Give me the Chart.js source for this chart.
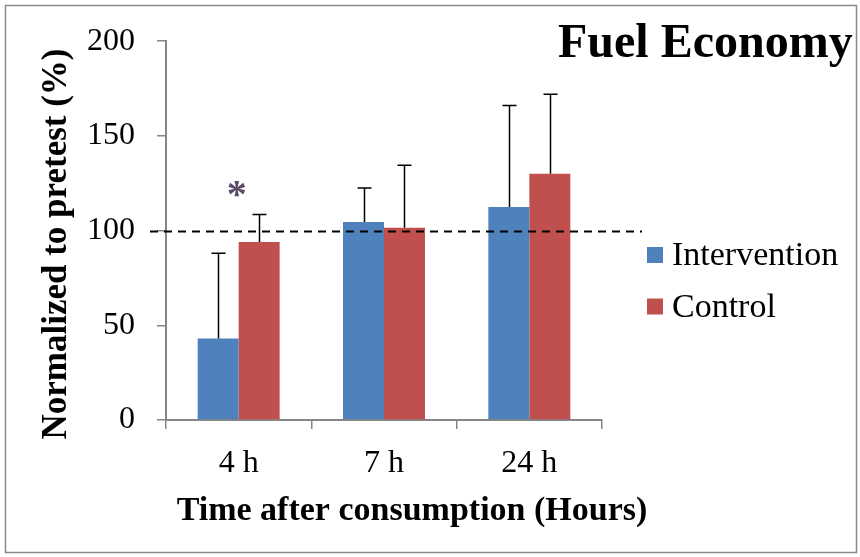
<!DOCTYPE html>
<html>
<head>
<meta charset="utf-8">
<script src="https://cdn.jsdelivr.net/npm/chart.js@4.4.1/dist/chart.umd.min.js"></script>
<style>
  html, body { margin: 0; padding: 0; background: #fff; }
  #wrap { width: 860px; height: 557px; }
</style>
</head>
<body>
<div id="wrap"><canvas id="chart" width="860" height="557"></canvas></div>
<script>
// Chart data
const categories = ['4 h', '7 h', '24 h'];
const interventionValues = [43, 104.5, 112.5];
const interventionErrors = [45, 18, 53.5];
const controlValues = [94, 101.5, 130];
const controlErrors = [14.5, 33, 42];
const yTicks = [0, 50, 100, 150, 200];
const referenceLine = 100;
const significanceMarks = [{ index: 0, value: 123.5, mark: '*' }];

const chartTitle = 'Fuel Economy';
const xTitle = 'Time after consumption (Hours)';
const yTitle = 'Normalized to pretest (%)';

const serif = "'Liberation Serif', 'Times New Roman', serif";
const axisColor = '#868686';

// Upper error bars with caps
const errorBars = {
    id: 'errorBars',
    afterDatasetsDraw(chart) {
        const ctx = chart.ctx;
        const y = chart.scales.y;
        ctx.save();
        ctx.strokeStyle = '#000';
        ctx.lineWidth = 1.5;
        chart.data.datasets.forEach((ds, i) => {
            chart.getDatasetMeta(i).data.forEach((bar, j) => {
                const top = y.getPixelForValue(ds.data[j] + ds.errors[j]);
                const x = Math.round(bar.x) + 0.5;
                ctx.beginPath();
                ctx.moveTo(x, bar.y);
                ctx.lineTo(x, top);
                ctx.moveTo(x - 7, top);
                ctx.lineTo(x + 7, top);
                ctx.stroke();
            });
        });
        ctx.restore();
    }
};

// Dashed 100% line, asterisk, titles, legend and frame
const decorations = {
    id: 'decorations',
    afterDatasetsDraw(chart) {
        const ctx = chart.ctx;
        const area = chart.chartArea;
        const yPos = Math.round(chart.scales.y.getPixelForValue(referenceLine)) + 0.5;
        ctx.save();
        ctx.strokeStyle = '#000';
        ctx.lineWidth = 2;
        ctx.setLineDash([8, 6]);
        ctx.beginPath();
        ctx.moveTo(area.left - 16, yPos);
        ctx.lineTo(area.right + 40, yPos);
        ctx.stroke();
        ctx.restore();
    },
    afterDraw(chart) {
        const ctx = chart.ctx;
        ctx.save();

        // significance marks
        ctx.fillStyle = '#5a4a66';
        ctx.font = 'bold 40px ' + serif;
        ctx.textAlign = 'center';
        ctx.textBaseline = 'alphabetic';
        significanceMarks.forEach(m => {
            const x = chart.scales.x.getPixelForValue(m.index) - 2;
            const yc = chart.scales.y.getPixelForValue(m.value);
            ctx.fillText(m.mark, x, yc + 21);
        });

        // axis titles (drawn here so they are not squeezed to the axis length)
        ctx.fillStyle = '#000';
        ctx.font = 'bold 34px ' + serif;
        ctx.fillText(xTitle, 412, 520);

        ctx.save();
        ctx.translate(66, 244);
        ctx.rotate(-Math.PI / 2);
        ctx.font = 'bold 35px ' + serif;
        ctx.fillText(yTitle, 0, 0);
        ctx.restore();

        // chart title
        ctx.textAlign = 'left';
        ctx.font = 'bold 48px ' + serif;
        ctx.fillText(chartTitle, 558, 57);

        // legend
        ctx.font = '34px ' + serif;
        chart.data.datasets.forEach((ds, i) => {
            ctx.fillStyle = ds.backgroundColor;
            ctx.fillRect(647, 247 + i * 51.5, 16, 16);
            ctx.fillStyle = '#000';
            ctx.fillText(ds.label, 672, 265 + i * 51.5);
        });

        // outer frame
        ctx.strokeStyle = '#8a8a8a';
        ctx.lineWidth = 1.5;
        ctx.strokeRect(5.5, 5.5, 851, 547);
        ctx.restore();
    }
};

const ctx = document.getElementById('chart').getContext('2d');
const chart = new Chart(ctx, {
    type: 'bar',
    data: {
        labels: categories,
        datasets: [{
            label: 'Intervention',
            data: interventionValues,
            errors: interventionErrors,
            backgroundColor: '#4F81BD',
            categoryPercentage: 0.564,
            barPercentage: 1
        }, {
            label: 'Control',
            data: controlValues,
            errors: controlErrors,
            backgroundColor: '#C0504D',
            categoryPercentage: 0.564,
            barPercentage: 1
        }]
    },
    options: {
        responsive: false,
        animation: false,
        layout: {
            padding: { top: 37, right: 258, bottom: 0, left: 0 }
        },
        plugins: {
            legend: { display: false },
            tooltip: { enabled: false }
        },
        scales: {
            x: {
                grid: {
                    drawOnChartArea: false,
                    tickLength: 9,
                    color: axisColor,
                    lineWidth: 1.5
                },
                border: { color: axisColor, width: 2 },
                ticks: {
                    color: '#000',
                    font: { family: serif, size: 32 },
                    padding: 15
                },
                afterFit(scale) { scale.height = 137; }
            },
            y: {
                min: 0,
                max: 200,
                afterBuildTicks(scale) {
                    scale.ticks = yTicks.map(v => ({ value: v }));
                },
                grid: {
                    drawOnChartArea: false,
                    tickLength: 9,
                    color: axisColor,
                    lineWidth: 1.5
                },
                border: { color: axisColor, width: 2 },
                ticks: {
                    color: '#000',
                    font: { family: serif, size: 32 },
                    padding: 22
                },
                afterFit(scale) { scale.width = 166; }
            }
        }
    },
    plugins: [errorBars, decorations]
});
</script>
</body>
</html>
